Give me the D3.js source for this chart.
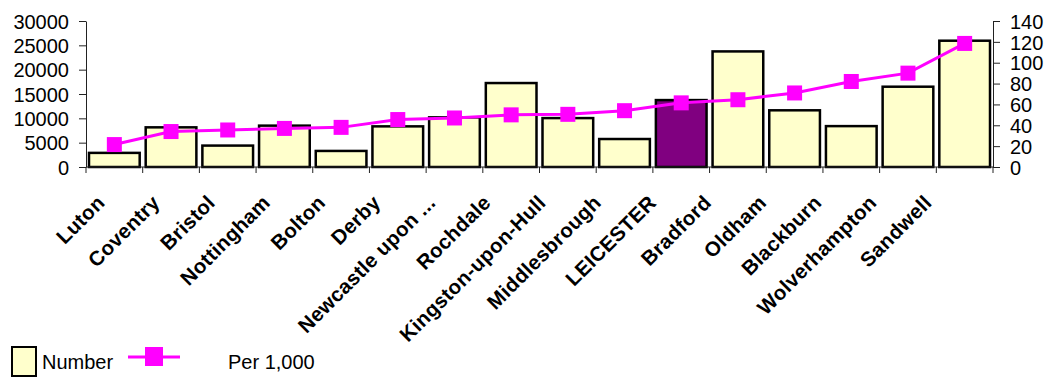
<!DOCTYPE html>
<html lang="en">
<head>
    <meta charset="utf-8">
    <title>Number and rate per 1,000 by area</title>
    <script type="text/javascript" src="https://cdn.jsdelivr.net/npm/d3@7"></script>
    <style type="text/css">
        body { margin: 0; background: #fff; }
        text { font-family: "Liberation Sans", Arial, sans-serif; fill: #000; }
    </style>
</head>
<body>
    <script type="text/javascript">

        //Chart data
        var areas = ["Luton", "Coventry", "Bristol", "Nottingham", "Bolton", "Derby",
            "Newcastle upon ...", "Rochdale", "Kingston-upon-Hull", "Middlesbrough",
            "LEICESTER", "Bradford", "Oldham", "Blackburn", "Wolverhampton", "Sandwell"];
        var numbers = [2900, 8150, 4400, 8500, 3300, 8350, 10200, 17250, 10050, 5750,
            13750, 23750, 11650, 8400, 16500, 25950];
        var per1000 = [21.5, 34, 35.5, 37, 38, 45.5, 47, 50, 50.5, 54,
            61.5, 64.5, 71, 82, 90, 118.5];
        var leftTicks = [0, 5000, 10000, 15000, 20000, 25000, 30000];
        var rightTicks = [0, 20, 40, 60, 80, 100, 120, 140];
        var highlight = "LEICESTER";

        //Width and height
        var w = 1051;
        var h = 379;
        var plotLeft = 86, plotRight = 993, plotTop = 21, plotBottom = 167;

        var svg = d3.select("body")
            .append("svg")
            .attr("width", w)
            .attr("height", h);

        //Scales
        var x = d3.scaleBand()
            .domain(areas)
            .range([plotLeft, plotRight]);

        var xLabel = d3.scalePoint()
            .domain(areas)
            .range([106, 933]);

        var yLeft = d3.scaleLinear()
            .domain([0, 30000])
            .range([plotBottom, plotTop]);

        var yRight = d3.scaleLinear()
            .domain([0, 140])
            .range([plotBottom, plotTop]);

        //Bars
        svg.selectAll("rect.bar")
            .data(numbers)
            .enter()
            .append("rect")
            .attr("class", "bar")
            .attr("x", function (d, i) { return x(areas[i]) + 3; })
            .attr("y", function (d) { return yLeft(d); })
            .attr("width", x.bandwidth() - 6)
            .attr("height", function (d) { return yLeft(0) - yLeft(d); })
            .style("fill", function (d, i) { return areas[i] == highlight ? "#800080" : "#FFFFCC"; })
            .style("stroke", "#000")
            .style("stroke-width", 2.5);

        //Axes
        var axisLeft = d3.axisLeft(yLeft)
            .tickValues(leftTicks)
            .tickFormat(d3.format("d"))
            .tickSizeInner(7)
            .tickSizeOuter(0)
            .tickPadding(10);

        var axisRight = d3.axisRight(yRight)
            .tickValues(rightTicks)
            .tickFormat(d3.format("d"))
            .tickSizeInner(7)
            .tickSizeOuter(0)
            .tickPadding(10);

        var gl = svg.append("g")
            .attr("transform", "translate(" + plotLeft + ",0)")
            .call(axisLeft);

        var gr = svg.append("g")
            .attr("transform", "translate(" + plotRight + ",0)")
            .call(axisRight);

        [gl, gr].forEach(function (g) {
            g.selectAll("text")
                .style("font-size", "20px")
                .style("font-family", "'Liberation Sans', Arial, sans-serif")
                .attr("dy", "0.36em");
            g.selectAll("path, line").style("stroke", "#222");
        });

        //Category axis: baseline with ticks at band edges
        var edges = areas.map(function (a) { return x(a); }).concat([plotRight]);
        svg.append("line")
            .attr("x1", plotLeft).attr("x2", plotRight)
            .attr("y1", plotBottom).attr("y2", plotBottom)
            .style("stroke", "#222");
        svg.selectAll("line.xtick")
            .data(edges)
            .enter()
            .append("line")
            .attr("class", "xtick")
            .attr("x1", function (d) { return d; })
            .attr("x2", function (d) { return d; })
            .attr("y1", plotBottom)
            .attr("y2", plotBottom + 6)
            .style("stroke", "#222");

        svg.selectAll("text.xlabel")
            .data(areas)
            .enter()
            .append("text")
            .attr("class", "xlabel")
            .attr("transform", function (d) { return "translate(" + xLabel(d) + ",204) rotate(-45)"; })
            .attr("text-anchor", "end")
            .style("font-size", "20.5px")
            .style("font-weight", "bold")
            .style("letter-spacing", "0.3px")
            .text(function (d) { return d; });

        //Line of rate per 1,000
        var line = d3.line()
            .x(function (d, i) { return x(areas[i]) + x.bandwidth() / 2; })
            .y(function (d) { return yRight(d); });

        svg.append("path")
            .datum(per1000)
            .attr("d", line)
            .style("fill", "none")
            .style("stroke", "#FF00FF")
            .style("stroke-width", 3);

        var ms = 15;
        svg.selectAll("rect.marker")
            .data(per1000)
            .enter()
            .append("rect")
            .attr("class", "marker")
            .attr("x", function (d, i) { return x(areas[i]) + x.bandwidth() / 2 - ms / 2; })
            .attr("y", function (d) { return yRight(d) - ms / 2; })
            .attr("width", ms)
            .attr("height", ms)
            .style("fill", "#FF00FF");

        //Legend
        var legend = svg.append("g");
        legend.append("rect")
            .attr("x", 12).attr("y", 347)
            .attr("width", 24).attr("height", 29)
            .style("fill", "#FFFFCC")
            .style("stroke", "#000")
            .style("stroke-width", 2);
        legend.append("text")
            .attr("x", 42).attr("y", 369)
            .style("font-size", "20px")
            .text("Number");
        legend.append("line")
            .attr("x1", 128).attr("x2", 180)
            .attr("y1", 357).attr("y2", 357)
            .style("stroke", "#FF00FF")
            .style("stroke-width", 3);
        legend.append("rect")
            .attr("x", 145).attr("y", 347)
            .attr("width", 18).attr("height", 19)
            .style("fill", "#FF00FF");
        legend.append("text")
            .attr("x", 228).attr("y", 369)
            .style("font-size", "20px")
            .text("Per 1,000");
    </script>
</body>
</html>
